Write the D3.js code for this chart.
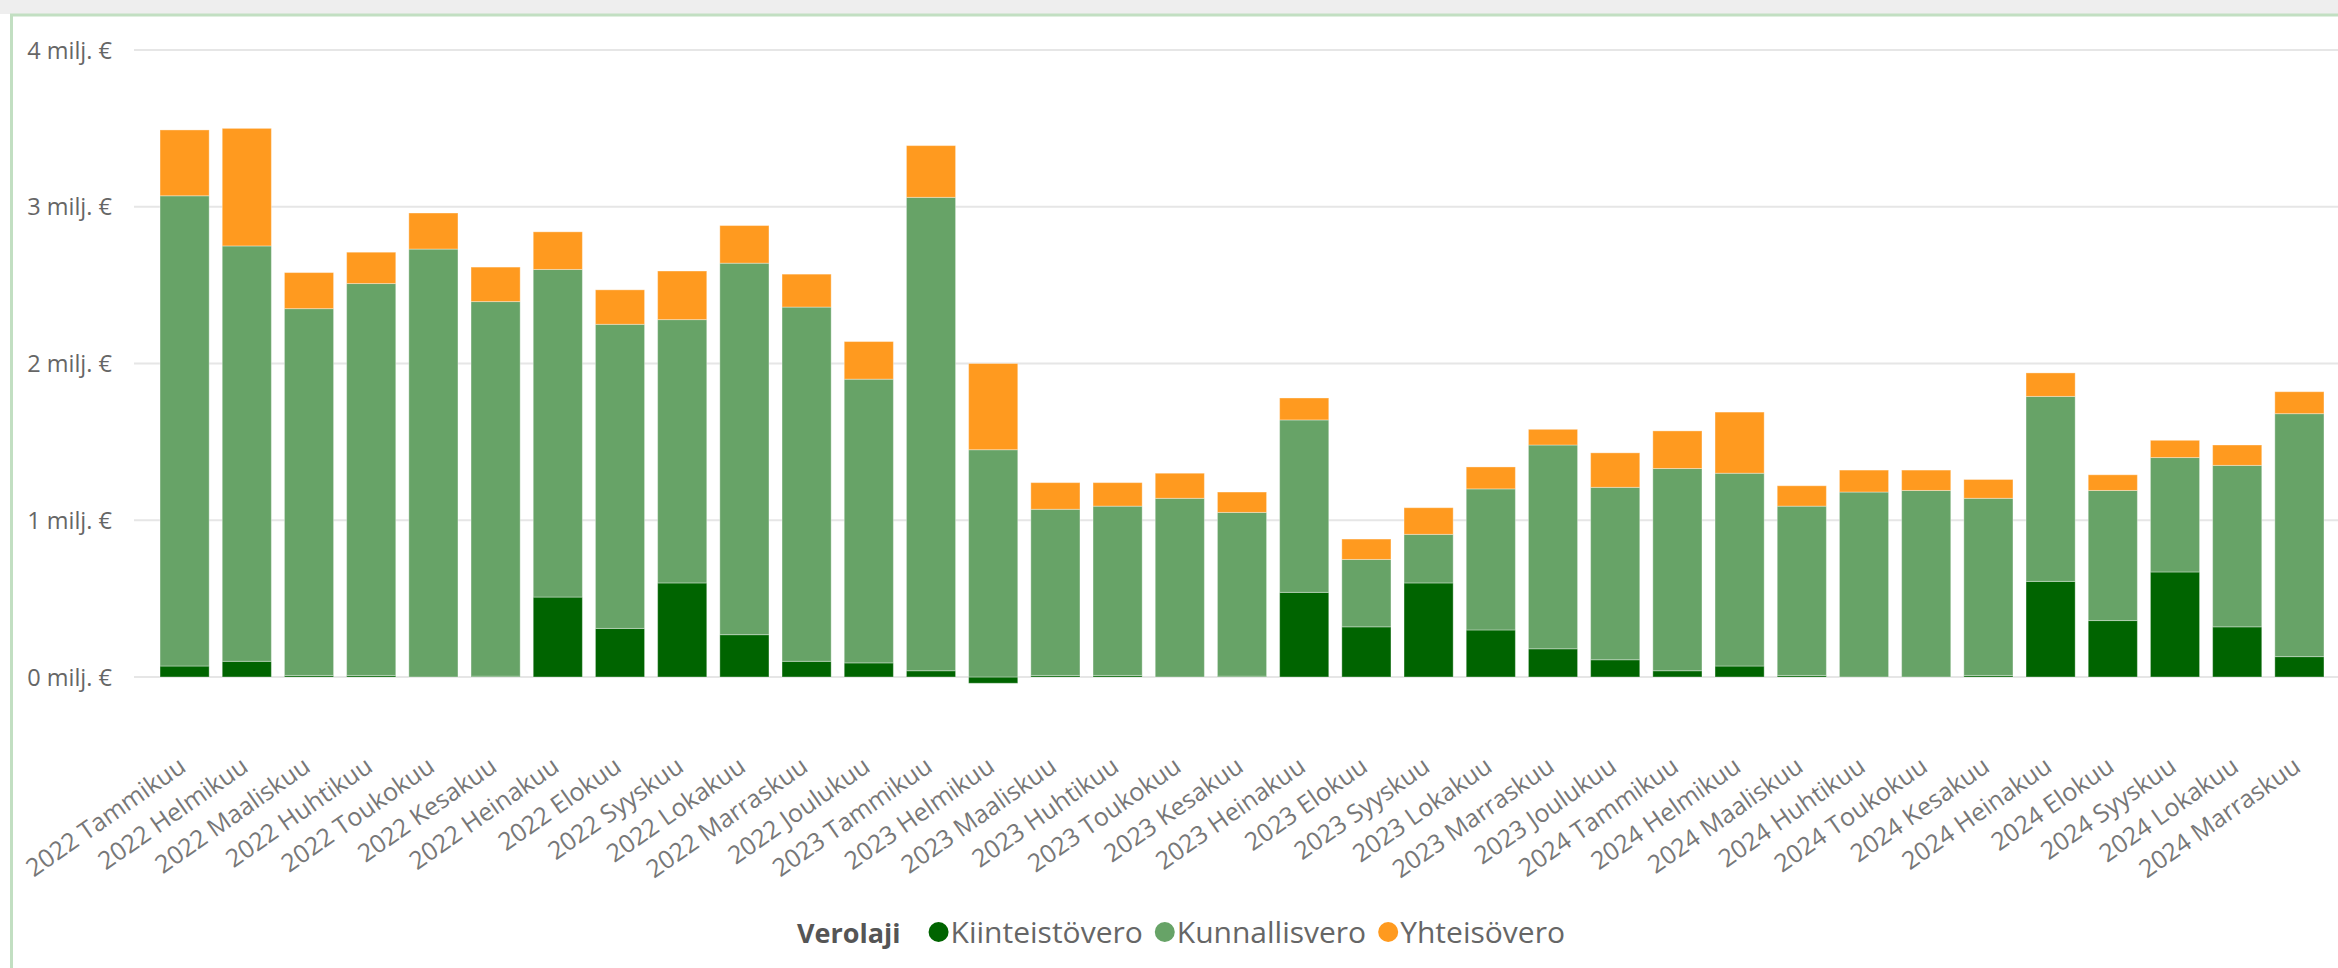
<!DOCTYPE html>
<html>
<head>
<meta charset="utf-8">
<script src="https://cdn.jsdelivr.net/npm/d3@7"></script>
<style>
  html, body { margin: 0; padding: 0; background: #fff; }
  svg { display: block; }
  .tick text { font-family: "Segoe UI", "Open Sans", sans-serif; }
</style>
</head>
<body>
<svg id="chart"></svg>
<script>
var viewWidth = 2338;
var viewHeight = 968;

// kuukaudet
var months = [
  "2022 Tammikuu", "2022 Helmikuu", "2022 Maaliskuu", "2022 Huhtikuu", "2022 Toukokuu", "2022 Kesakuu",
  "2022 Heinakuu", "2022 Elokuu", "2022 Syyskuu", "2022 Lokakuu", "2022 Marraskuu", "2022 Joulukuu",
  "2023 Tammikuu", "2023 Helmikuu", "2023 Maaliskuu", "2023 Huhtikuu", "2023 Toukokuu", "2023 Kesakuu",
  "2023 Heinakuu", "2023 Elokuu", "2023 Syyskuu", "2023 Lokakuu", "2023 Marraskuu", "2023 Joulukuu",
  "2024 Tammikuu", "2024 Helmikuu", "2024 Maaliskuu", "2024 Huhtikuu", "2024 Toukokuu", "2024 Kesakuu",
  "2024 Heinakuu", "2024 Elokuu", "2024 Syyskuu", "2024 Lokakuu", "2024 Marraskuu"
];

// milj. euroa
var kiinteistovero = [
  0.07, 0.10, 0.01, 0.01, 0.00, 0.005, 0.51, 0.31, 0.60, 0.27, 0.10, 0.09,
  0.04, -0.04, 0.01, 0.01, 0.00, 0.005, 0.54, 0.32, 0.60, 0.30, 0.18, 0.11,
  0.04, 0.07, 0.01, 0.00, 0.00, 0.01, 0.61, 0.36, 0.67, 0.32, 0.13
];
var kunnallisvero = [
  3.00, 2.65, 2.34, 2.50, 2.73, 2.39, 2.09, 1.94, 1.68, 2.37, 2.26, 1.81,
  3.02, 1.45, 1.06, 1.08, 1.14, 1.045, 1.10, 0.43, 0.31, 0.90, 1.30, 1.10,
  1.29, 1.23, 1.08, 1.18, 1.19, 1.13, 1.18, 0.83, 0.73, 1.03, 1.55
];
var yhteisovero = [
  0.42, 0.75, 0.23, 0.20, 0.23, 0.22, 0.24, 0.22, 0.31, 0.24, 0.21, 0.24,
  0.33, 0.55, 0.17, 0.15, 0.16, 0.13, 0.14, 0.13, 0.17, 0.14, 0.10, 0.22,
  0.24, 0.39, 0.13, 0.14, 0.13, 0.12, 0.15, 0.10, 0.11, 0.13, 0.14
];

var keys = ["Kiinteistövero", "Kunnallisvero", "Yhteisövero"];
var colors = ["#006400", "#67A367", "#FF9A1F"];
var yTicks = [0, 1, 2, 3, 4];

var rows = months.map(function(m, i) {
  return {
    month: m,
    "Kiinteistövero": kiinteistovero[i],
    "Kunnallisvero": kunnallisvero[i],
    "Yhteisövero": yhteisovero[i]
  };
});

var svg = d3.select("#chart")
    .attr("width", viewWidth)
    .attr("height", viewHeight);

// kehys
svg.append("rect")
    .attr("x", 0).attr("y", 0)
    .attr("width", viewWidth).attr("height", 14)
    .style("fill", "#eeeeee");
svg.append("rect")
    .attr("x", 11.5).attr("y", 15)
    .attr("width", viewWidth + 20).attr("height", viewHeight + 20)
    .style("fill", "#ffffff")
    .style("stroke", "#c2dfc2")
    .style("stroke-width", 3);

var x = d3.scaleBand()
    .domain(months)
    .range([153.5, 2330.5])
    .paddingInner(0.21)
    .paddingOuter(0.105);

var y = d3.scaleLinear()
    .domain([0, 4])
    .range([677, 50]);

// ruudukko
svg.append("g")
    .selectAll("line")
    .data(yTicks)
  .enter().append("line")
    .attr("x1", 134)
    .attr("x2", viewWidth)
    .attr("y1", function(d) { return y(d); })
    .attr("y2", function(d) { return y(d); })
    .style("stroke", "#e6e6e6")
    .style("stroke-width", 2);

var yAxis = d3.axisLeft(y)
    .tickValues(yTicks)
    .tickSize(0)
    .tickPadding(0)
    .tickFormat(function(d) { return d + " milj. €"; });

svg.append("g")
    .attr("class", "y axis")
    .attr("transform", "translate(112,0)")
    .call(yAxis)
    .call(function(g) { g.select(".domain").remove(); })
    .selectAll("text")
    .attr("dy", "0.35em")
    .style("font-size", "23.5px")
    .style("fill", "#666666");

var series = d3.stack()
    .keys(keys)
    .offset(d3.stackOffsetDiverging)(rows);

svg.append("g")
    .selectAll("g")
    .data(series)
  .enter().append("g")
    .style("fill", function(d, i) { return colors[i]; })
    .selectAll("rect")
    .data(function(d) { return d; })
  .enter().append("rect")
    .attr("x", function(d) { return x(d.data.month); })
    .attr("width", x.bandwidth())
    .attr("y", function(d) { return y(Math.max(d[0], d[1])); })
    .attr("height", function(d) { return Math.abs(y(d[0]) - y(d[1])); })
    .style("stroke", "#ffffff")
    .style("stroke-opacity", 0.35)
    .style("stroke-width", 1);

// x-akselin nimikkeet
var xAxis = d3.axisBottom(x)
    .tickSize(0)
    .tickPadding(0);

var xg = svg.append("g")
    .attr("class", "x axis")
    .call(xAxis);
xg.select(".domain").remove();
xg.selectAll(".tick")
    .attr("transform", function(d) {
      return "translate(" + (x(d) + x.bandwidth() / 2 + 3) + ",770)";
    });
xg.selectAll("text")
    .attr("y", 0)
    .attr("dy", 0)
    .attr("transform", "rotate(-35)")
    .style("text-anchor", "end")
    .style("font-size", "25px")
    .style("fill", "#777777");

// selite
var legend = svg.append("g")
    .style("font-family", "'Segoe UI', 'Open Sans', sans-serif")
    .style("font-size", "30px");

var title = legend.append("text")
    .attr("x", 0)
    .style("font-weight", "bold")
    .style("font-size", "27px")
    .style("fill", "#555555")
    .text("Verolaji");

var pos = title.node().getComputedTextLength() + 38;
keys.forEach(function(k, i) {
  legend.append("circle")
      .attr("cx", pos)
      .attr("cy", -11)
      .attr("r", 10)
      .style("fill", colors[i]);
  var t = legend.append("text")
      .attr("x", pos + 12)
      .style("fill", "#666666")
      .text(k);
  pos += 12 + t.node().getComputedTextLength() + 22;
});
var legendWidth = pos - 22;
legend.attr("transform", "translate(" + (1181 - legendWidth / 2) + ",943)");
</script>
</body>
</html>
